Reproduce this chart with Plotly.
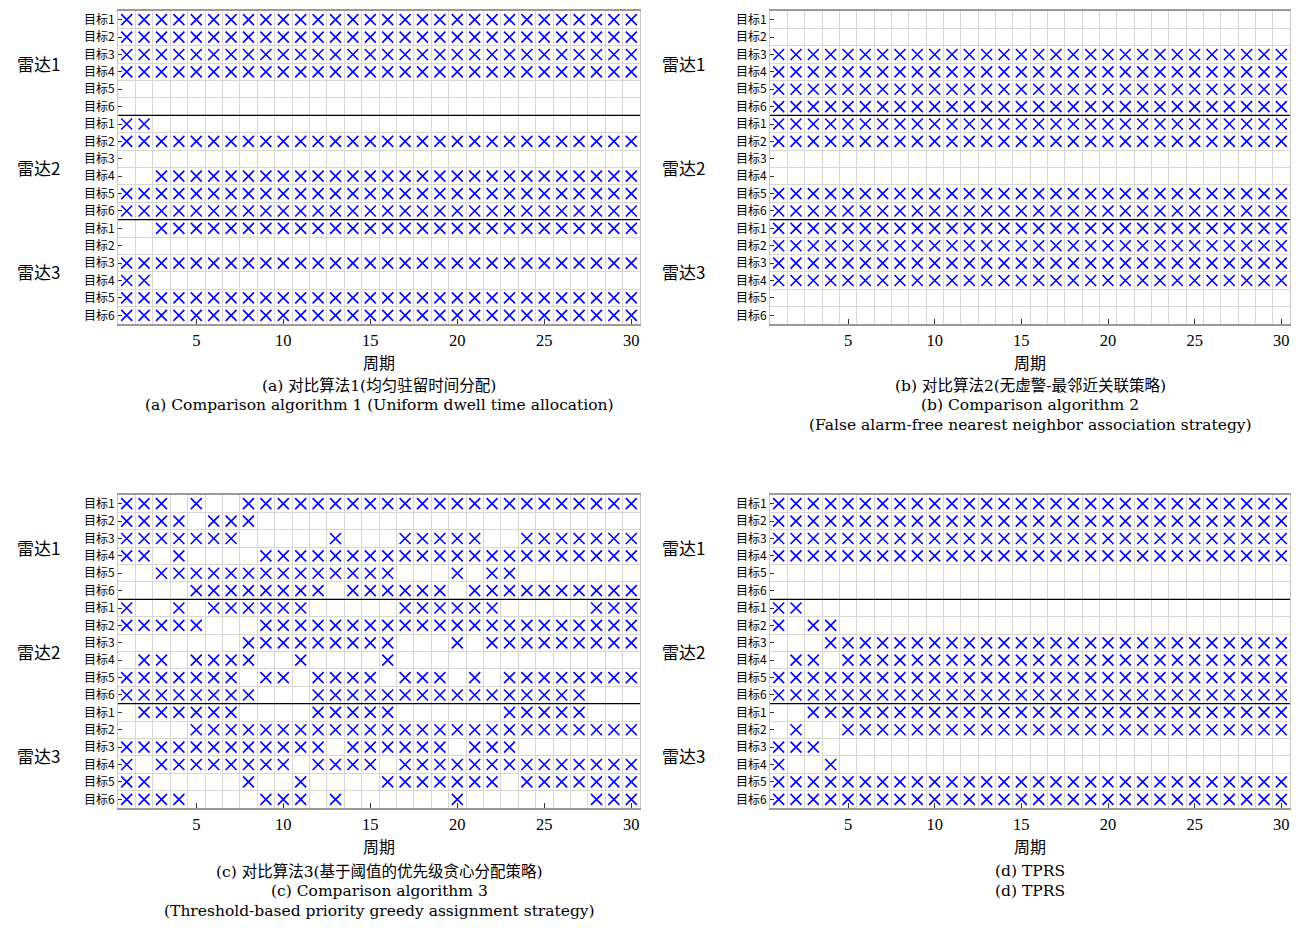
import plotly.graph_objects as go

W, H = 1306, 952

cycles = [1, 2, 3, 4, 5, 6, 7, 8, 9, 10, 11, 12, 13, 14, 15,
          16, 17, 18, 19, 20, 21, 22, 23, 24, 25, 26, 27, 28, 29, 30]
x_ticks = [5, 10, 15, 20, 25, 30]
targets = ["目标1", "目标2", "目标3", "目标4", "目标5", "目标6"]
radars = ["雷达1", "雷达2", "雷达3"]

# one string per (radar, target) row; 'x' = target illuminated in that cycle
rows_a = [
    "xxxxxxxxxxxxxxxxxxxxxxxxxxxxxx",
    "xxxxxxxxxxxxxxxxxxxxxxxxxxxxxx",
    "xxxxxxxxxxxxxxxxxxxxxxxxxxxxxx",
    "xxxxxxxxxxxxxxxxxxxxxxxxxxxxxx",
    "..............................",
    "..............................",
    "xx............................",
    "xxxxxxxxxxxxxxxxxxxxxxxxxxxxxx",
    "..............................",
    "..xxxxxxxxxxxxxxxxxxxxxxxxxxxx",
    "xxxxxxxxxxxxxxxxxxxxxxxxxxxxxx",
    "xxxxxxxxxxxxxxxxxxxxxxxxxxxxxx",
    "..xxxxxxxxxxxxxxxxxxxxxxxxxxxx",
    "..............................",
    "xxxxxxxxxxxxxxxxxxxxxxxxxxxxxx",
    "xx............................",
    "xxxxxxxxxxxxxxxxxxxxxxxxxxxxxx",
    "xxxxxxxxxxxxxxxxxxxxxxxxxxxxxx",
]
rows_b = [
    "..............................",
    "..............................",
    "xxxxxxxxxxxxxxxxxxxxxxxxxxxxxx",
    "xxxxxxxxxxxxxxxxxxxxxxxxxxxxxx",
    "xxxxxxxxxxxxxxxxxxxxxxxxxxxxxx",
    "xxxxxxxxxxxxxxxxxxxxxxxxxxxxxx",
    "xxxxxxxxxxxxxxxxxxxxxxxxxxxxxx",
    "xxxxxxxxxxxxxxxxxxxxxxxxxxxxxx",
    "..............................",
    "..............................",
    "xxxxxxxxxxxxxxxxxxxxxxxxxxxxxx",
    "xxxxxxxxxxxxxxxxxxxxxxxxxxxxxx",
    "xxxxxxxxxxxxxxxxxxxxxxxxxxxxxx",
    "xxxxxxxxxxxxxxxxxxxxxxxxxxxxxx",
    "xxxxxxxxxxxxxxxxxxxxxxxxxxxxxx",
    "xxxxxxxxxxxxxxxxxxxxxxxxxxxxxx",
    "..............................",
    "..............................",
]
rows_c = [
    "xxx.x..xxxxxxxxxxxxxxxxxxxxxxx",
    "xxxx.xxx......................",
    "xxxxxxx.....x...xxxxx..xxxxxxx",
    "xx.x....xxxxxxxxxxxxxxxxxxxxxx",
    "..xxxxxxxxxxxxxx...x.xx.......",
    "....xxxxxxxx.xxxxxx.xxxxxxxxxx",
    "x..x.xxxxxx.....xxxxxx.....xxx",
    "xxxxx...xxxxxxxxxxxxxxxxxxxxxx",
    ".......xxxxxxxxx...x.xxxxxxxxx",
    ".xx.xxxx..x....x..............",
    "xxxxxxx.xx.xxxx.xxx.x.xxxxxxxx",
    "xxxxxxxx...xxxxxxxxxxxxxxxx...",
    ".xxxxxx....xxxxx......xxxxx...",
    "....xxxxxxxxxxxxxxxxxxxxxxxxxx",
    "xxxxxxxxxxxx.xxxxxx.xxx.......",
    "x.xxxxxxxx.xxxx.xxxxxxxxxxxxxx",
    "xx.....x..x....xxxxxxx.xxxxxxx",
    "xxxx....xxx.x......x.......xxx",
]
rows_d = [
    "xxxxxxxxxxxxxxxxxxxxxxxxxxxxxx",
    "xxxxxxxxxxxxxxxxxxxxxxxxxxxxxx",
    "xxxxxxxxxxxxxxxxxxxxxxxxxxxxxx",
    "xxxxxxxxxxxxxxxxxxxxxxxxxxxxxx",
    "..............................",
    "..............................",
    "xx............................",
    "x.xx..........................",
    "...xxxxxxxxxxxxxxxxxxxxxxxxxxx",
    ".xx.xxxxxxxxxxxxxxxxxxxxxxxxxx",
    "xxxxxxxxxxxxxxxxxxxxxxxxxxxxxx",
    "xxxxxxxxxxxxxxxxxxxxxxxxxxxxxx",
    "..xxxxxxxxxxxxxxxxxxxxxxxxxxxx",
    ".x..xxxxxxxxxxxxxxxxxxxxxxxxxx",
    "xxx...........................",
    "x..x..........................",
    "xxxxxxxxxxxxxxxxxxxxxxxxxxxxxx",
    "xxxxxxxxxxxxxxxxxxxxxxxxxxxxxx",
]

captions_a = ["(a) 对比算法1(均匀驻留时间分配)",
              "(a) Comparison algorithm 1 (Uniform dwell time allocation)"]
captions_b = ["(b) 对比算法2(无虚警-最邻近关联策略)",
              "(b) Comparison algorithm 2",
              "(False alarm-free nearest neighbor association strategy)"]
captions_c = ["(c) 对比算法3(基于阈值的优先级贪心分配策略)",
              "(c) Comparison algorithm 3",
              "(Threshold-based priority greedy assignment strategy)"]
captions_d = ["(d) TPRS", "(d) TPRS"]

xlabel = "周期"

SERIF = "Liberation Serif, Noto Sans CJK SC, serif"
CAPF = "DejaVu Serif, Noto Sans CJK SC, serif"
CJK = "Noto Sans CJK SC, Liberation Serif, serif"

# layout boxes in pixels: (left, right, top, bottom)
boxes = [(118, 640, 11, 324), (770, 1290, 11, 324),
         (118, 640, 495, 808), (770, 1290, 495, 808)]
panels = [rows_a, rows_b, rows_c, rows_d]
captions = [captions_a, captions_b, captions_c, captions_d]
radar_label_x = [38, 683, 38, 683]
caption_offset = [61, 61, 63, 63]

row_labels = [t for _ in radars for t in targets]
n_t = len(targets)

fig = go.Figure()
annotations = []
shapes = []

for i, (rows, box, caps) in enumerate(zip(panels, boxes, captions)):
    k = i + 1
    xa = "x" if k == 1 else f"x{k}"
    ya = "y" if k == 1 else f"y{k}"
    xs, ys = [], []
    for r, pattern in enumerate(rows):
        for c, ch in enumerate(pattern):
            if ch == "x":
                xs.append(cycles[c])
                ys.append(r)
    fig.add_trace(go.Scatter(
        x=xs, y=ys, mode="markers", xaxis=xa, yaxis=ya, showlegend=False,
        marker=dict(symbol="x-thin", size=11, color="#0000ff",
                    line=dict(width=1.6, color="#0000ff")),
        hoverinfo="skip"))

    left, right, top, bottom = box
    xdom = [left / W, right / W]
    ydom = [1 - bottom / H, 1 - top / H]
    xkey = "xaxis" if k == 1 else f"xaxis{k}"
    ykey = "yaxis" if k == 1 else f"yaxis{k}"
    fig.update_layout(**{
        xkey: dict(
            domain=xdom, anchor=ya, range=[cycles[0] - 0.5, cycles[-1] + 0.5],
            tickmode="array", tickvals=x_ticks, ticktext=[str(v) for v in x_ticks],
            ticks="inside", ticklen=5, tickcolor="#333333", tickwidth=1,
            showgrid=False, zeroline=False,
            showline=True, mirror=True, linecolor="#9a9a9a", linewidth=1.5,
            tickfont=dict(family=SERIF, size=16.5, color="black"),
            minor=dict(tick0=0.5, dtick=1, showgrid=True, gridcolor="#d6d6d6",
                       gridwidth=1, ticks=""),
        ),
        ykey: dict(
            domain=ydom, anchor=xa, range=[len(rows) - 0.5, -0.5],
            tickmode="array", tickvals=list(range(len(rows))), ticktext=row_labels,
            ticks="inside", ticklen=4, tickcolor="#333333", tickwidth=1,
            showgrid=False, zeroline=False,
            showline=True, mirror=True, linecolor="#c8c8c8", linewidth=1,
            tickfont=dict(family=CJK, size=12, color="black"),
            minor=dict(tick0=0.5, dtick=1, showgrid=True, gridcolor="#d6d6d6",
                       gridwidth=1, ticks=""),
        ),
    })
    # radar separators
    for j in range(1, len(radars)):
        yv = j * n_t - 0.5
        shapes.append(dict(type="line", xref=f"{xa} domain", yref=ya,
                           x0=0, x1=1, y0=yv, y1=yv,
                           line=dict(color="black", width=1.3)))
    # radar labels
    for j, rname in enumerate(radars):
        annotations.append(dict(
            text=rname, xref="paper", yref=ya, x=radar_label_x[i] / W,
            y=j * n_t + (n_t - 1) / 2, showarrow=False, xanchor="center",
            yanchor="middle", font=dict(family=CJK, size=17, color="black")))
    cx = (left + right) / 2 / W
    annotations.append(dict(
        text=xlabel, xref="paper", yref="paper", x=cx, y=1 - (bottom + 38) / H,
        showarrow=False, xanchor="center", yanchor="middle",
        font=dict(family=CJK, size=16, color="black")))
    for m, line in enumerate(caps):
        annotations.append(dict(
            text=line, xref="paper", yref="paper", x=cx,
            y=1 - (bottom + caption_offset[i] + 20 * m) / H,
            showarrow=False, xanchor="center", yanchor="middle",
            font=dict(family=CAPF, size=15.5, color="black")))

fig.update_layout(
    width=W, height=H, margin=dict(l=0, r=0, t=0, b=0),
    paper_bgcolor="white", plot_bgcolor="white",
    annotations=annotations, shapes=shapes,
)

fig.write_html("out.html")
